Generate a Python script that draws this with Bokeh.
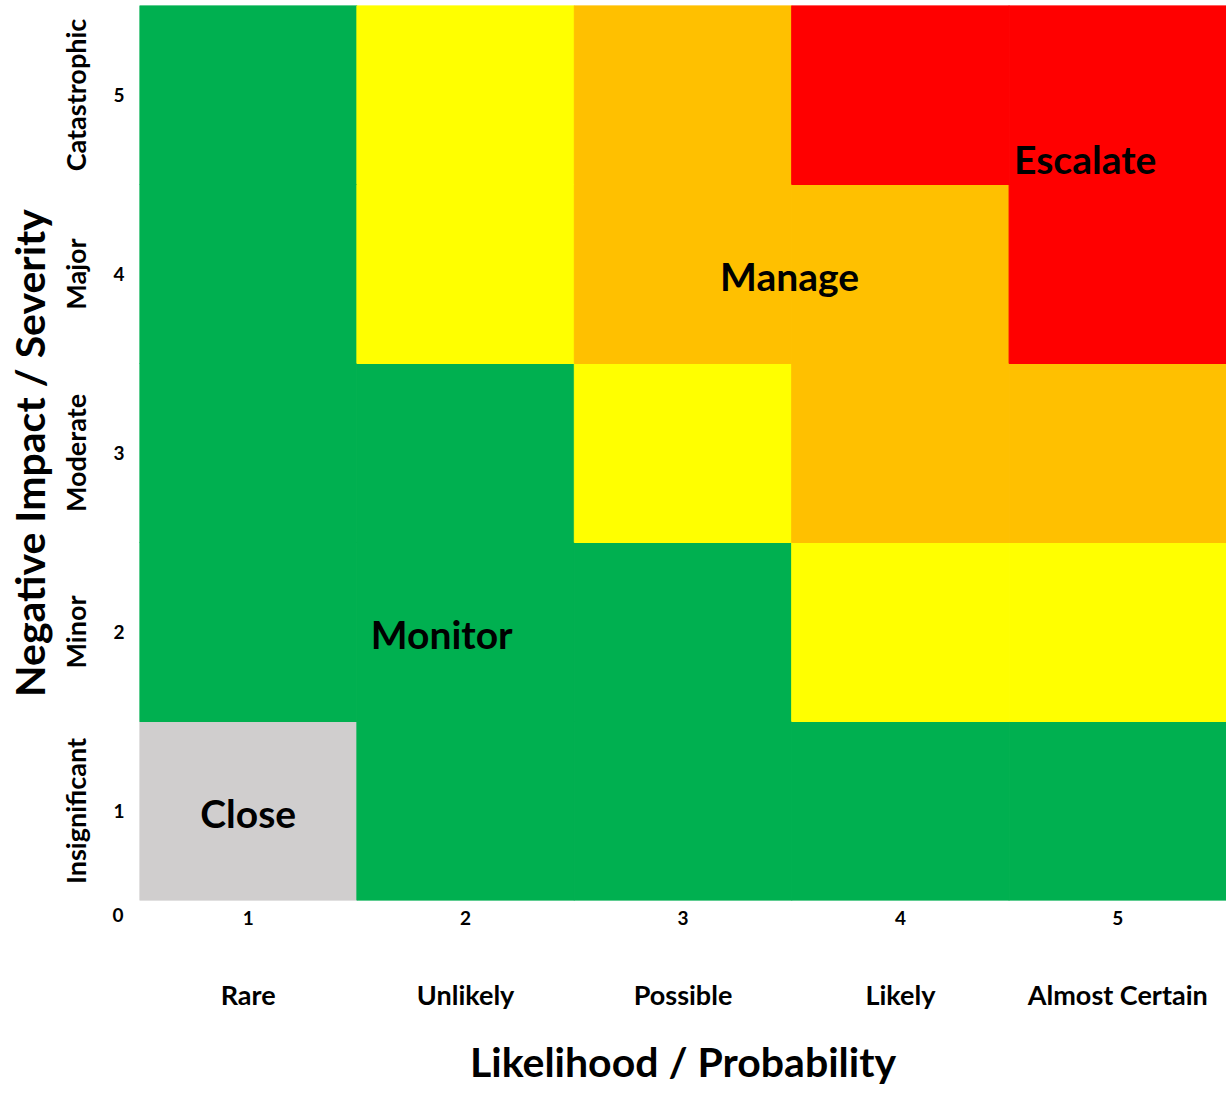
from bokeh.plotting import figure
from bokeh.models import ColumnDataSource, FixedTicker, LinearAxis, Range1d, Title
from bokeh.core.properties import value
from bokeh.embed import file_html
from bokeh.resources import INLINE

# ---- data ----
likelihood_labels = ["Rare", "Unlikely", "Possible", "Likely", "Almost Certain"]
impact_labels = ["Insignificant", "Minor", "Moderate", "Major", "Catastrophic"]
likelihood = [1, 2, 3, 4, 5]
impact = [1, 2, 3, 4, 5]
origin_label = "0"
# rows: impact 1 (bottom) .. 5 (top); columns: likelihood 1..5
levels = [
    ["Close",   "Monitor", "Monitor", "Monitor", "Monitor"],
    ["Monitor", "Monitor", "Monitor", "Watch",   "Watch"],
    ["Monitor", "Monitor", "Watch",   "Manage",  "Manage"],
    ["Monitor", "Watch",   "Manage",  "Manage",  "Escalate"],
    ["Monitor", "Watch",   "Manage",  "Escalate", "Escalate"],
]
level_colors = {"Close": "#D0CECE", "Monitor": "#00B050", "Watch": "#FFFF00",
                "Manage": "#FFC000", "Escalate": "#FF0000"}
zone_names = ["Close", "Monitor", "Manage", "Escalate"]
zone_x = [1.0, 1.89, 3.49, 4.85]
zone_y = [0.99, 1.99, 3.99, 4.64]

FONT = "Lato"

xs, ys, cs = [], [], []
for i, imp in enumerate(impact):
    for j, lk in enumerate(likelihood):
        xs.append(lk)
        ys.append(imp)
        cs.append(level_colors[levels[i][j]])
cells = ColumnDataSource(dict(x=xs, y=ys, color=cs))
zones = ColumnDataSource(dict(x=zone_x, y=zone_y, text=zone_names))

p = figure(width=1226, height=1094, output_backend="svg", toolbar_location=None,
           x_range=Range1d(0.5, 5.5), y_range=Range1d(0.5, 5.5),
           x_axis_location=None, y_axis_location=None,
           min_border_left=139, min_border_right=0, min_border_top=5,
           min_border_bottom=194)
p.outline_line_color = None
p.xgrid.visible = False
p.ygrid.visible = False
p.background_fill_color = "white"
p.border_fill_color = "white"

p.rect(x="x", y="y", width=1, height=1, source=cells, fill_color="color",
       line_color="color", line_width=1)
p.text(x="x", y="y", text="text", source=zones, text_font=value(FONT),
       text_font_style="bold", text_font_size="39px", text_color="black",
       text_align="center", text_baseline="middle")


def style_axis(ax, size, standoff):
    ax.axis_line_color = None
    ax.major_tick_line_color = None
    ax.minor_tick_line_color = None
    ax.major_tick_out = 0
    ax.major_tick_in = 0
    ax.major_label_text_font = FONT
    ax.major_label_text_font_style = "bold"
    ax.major_label_text_font_size = size
    ax.major_label_text_color = "black"
    ax.major_label_standoff = standoff


# origin "0" label, left of the frame corner
zero = Title(text=origin_label, align="left", offset=-27, standoff=11,
             text_font=FONT, text_font_style="bold", text_font_size="19px",
             text_color="black")
p.add_layout(zero, "below")

xnum = LinearAxis(ticker=FixedTicker(ticks=likelihood))
style_axis(xnum, "19px", -17)
p.add_layout(xnum, "below")

xcat = LinearAxis(ticker=FixedTicker(ticks=likelihood),
                  major_label_overrides={k: v for k, v in zip(likelihood, likelihood_labels)})
style_axis(xcat, "27px", 50)
xcat.axis_label = "Likelihood / Probability"
xcat.axis_label_text_font = FONT
xcat.axis_label_text_font_style = "bold"
xcat.axis_label_text_font_size = "41px"
xcat.axis_label_text_color = "black"
xcat.axis_label_standoff = 23
p.add_layout(xcat, "below")

ynum = LinearAxis(ticker=FixedTicker(ticks=impact))
style_axis(ynum, "19px", 15)
p.add_layout(ynum, "left")

ycat = LinearAxis(ticker=FixedTicker(ticks=impact),
                  major_label_overrides={k: v for k, v in zip(impact, impact_labels)})
style_axis(ycat, "27px", 19)
ycat.major_label_orientation = "vertical"
ycat.axis_label = "Negative Impact / Severity"
ycat.axis_label_text_font = FONT
ycat.axis_label_text_font_style = "bold"
ycat.axis_label_text_font_size = "41px"
ycat.axis_label_text_color = "black"
ycat.axis_label_standoff = 2
p.add_layout(ycat, "left")

open("out.html", "w").write(file_html(p, INLINE))
